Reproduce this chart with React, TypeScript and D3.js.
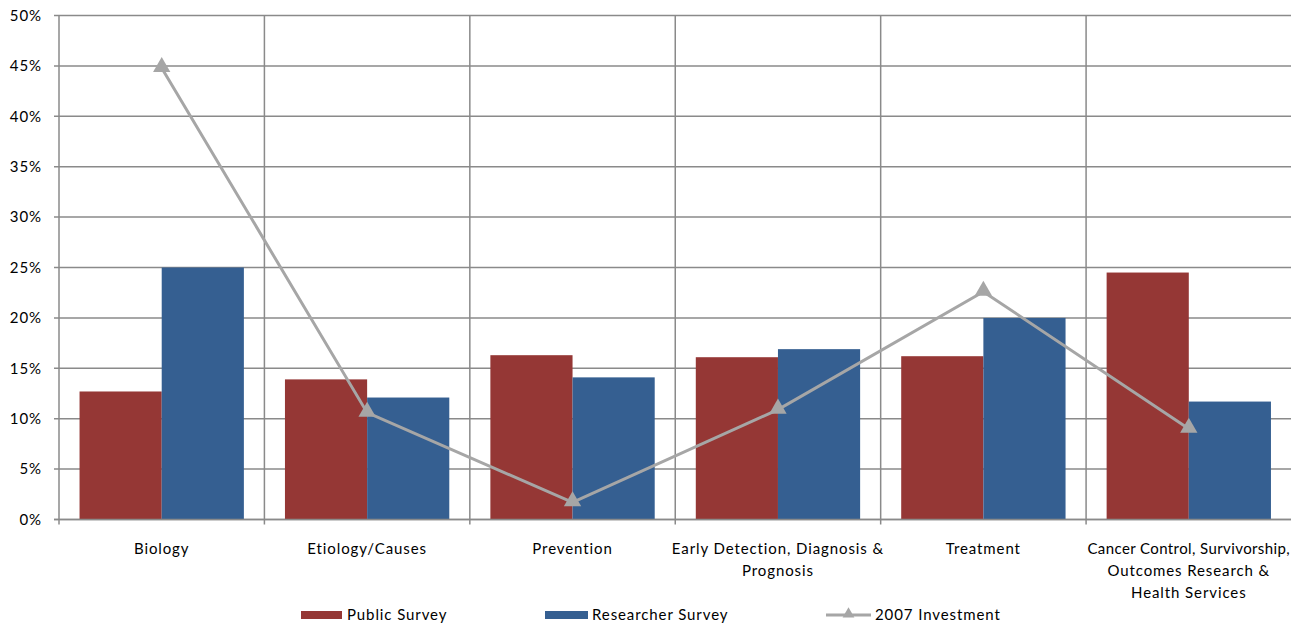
import React from "react";
import * as d3 from "d3";

const categories: string[][] = [
  ["Biology"],
  ["Etiology/Causes"],
  ["Prevention"],
  ["Early Detection, Diagnosis &", "Prognosis"],
  ["Treatment"],
  ["Cancer Control, Survivorship,", "Outcomes Research &", "Health Services"],
];
const publicSurvey = [12.7, 13.9, 16.3, 16.1, 16.2, 24.5];
const researcherSurvey = [25.0, 12.1, 14.1, 16.9, 20.0, 11.7];
const investment2007 = [44.8, 10.6, 1.7, 10.9, 22.6, 9.0];
const yTicks = [0, 5, 10, 15, 20, 25, 30, 35, 40, 45, 50];

const W = 1291;
const H = 624;
const left = 59;
const right = 1291.5;
const top = 15.5;
const bottom = 519.5;
const RED = "#953735";
const BLUE = "#355F91";
const GRAY_LINE = "#A6A6A6";
const GRID = "#8A8A8A";
const FONT = "Lato, 'Open Sans', sans-serif";
const LS = 0.9;

export default function App() {
  const idx = categories.map((_, i) => String(i));
  const x0 = d3.scaleBand().domain(idx).range([left, right]).paddingInner(0).paddingOuter(0);
  const x1 = d3.scaleBand().domain(["p", "r"]).range([0, x0.bandwidth()]).paddingOuter(0.25).paddingInner(0);
  const y = d3.scaleLinear().domain([0, 50]).range([bottom, top]);
  const cx = (i: number) => (x0(String(i)) as number) + x0.bandwidth() / 2;
  const line = d3
    .line<number>()
    .x((_, i) => cx(i))
    .y((d) => y(d));
  const tri = d3.symbol().type(d3.symbolTriangle).size(130)() as string;

  const boundaries = idx.map((k) => x0(k) as number).concat([right]);

  return (
    <svg width={W} height={H} style={{ position: "absolute", left: 0, top: 0, background: "#fff" }} fontFamily={FONT}>
      {yTicks.map((t) => (
        <g key={t}>
          <line x1={left - 5} x2={W} y1={y(t)} y2={y(t)} stroke={GRID} strokeWidth={1.5} />
          <text x={42} y={y(t)} dy="0.35em" textAnchor="end" fontSize={15} letterSpacing={LS} fill="#000">
            {t}%
          </text>
        </g>
      ))}
      {boundaries.slice(1, 6).map((b, i) => (
        <line key={i} x1={b} x2={b} y1={top} y2={bottom + 5} stroke={GRID} strokeWidth={1.5} />
      ))}
      <line x1={left} x2={left} y1={top} y2={bottom + 5} stroke={GRID} strokeWidth={1.5} />
      {categories.map((_, i) => (
        <g key={i} transform={`translate(${x0(String(i))},0)`}>
          <rect x={x1("p")} width={x1.bandwidth()} y={y(publicSurvey[i])} height={bottom - y(publicSurvey[i])} fill={RED} />
          <rect x={x1("r")} width={x1.bandwidth()} y={y(researcherSurvey[i])} height={bottom - y(researcherSurvey[i])} fill={BLUE} />
        </g>
      ))}
      <line x1={left - 5} x2={W} y1={bottom} y2={bottom} stroke={GRID} strokeWidth={1.5} />
      <path d={line(investment2007) as string} fill="none" stroke={GRAY_LINE} strokeWidth={3} />
      {investment2007.map((v, i) => (
        <path key={i} d={tri} transform={`translate(${cx(i)},${y(v) - 1})`} fill={GRAY_LINE} />
      ))}
      {categories.map((lines, i) => (
        <text key={i} x={cx(i)} y={549} textAnchor="middle" fontSize={15} fill="#000">
          {lines.map((l, j) => (
            <tspan
              key={j}
              x={cx(i)}
              y={549 + j * 22}
              dy="0.35em"
              letterSpacing={l.length > 28 ? 0.4 : LS}
            >
              {l}
            </tspan>
          ))}
        </text>
      ))}
      <g fontSize={15} letterSpacing={LS}>
        <rect x={301} y={611} width={41} height={8} fill={RED} />
        <text x={347} y={615} dy="0.35em">Public Survey</text>
        <rect x={545} y={611} width={43} height={8} fill={BLUE} />
        <text x={592} y={615} dy="0.35em">Researcher Survey</text>
        <line x1={826} x2={871} y1={615} y2={615} stroke={GRAY_LINE} strokeWidth={3} />
        <path d={d3.symbol().type(d3.symbolTriangle).size(60)() as string} transform="translate(848.5,614)" fill={GRAY_LINE} />
        <text x={875} y={615} dy="0.35em">2007 Investment</text>
      </g>
    </svg>
  );
}
